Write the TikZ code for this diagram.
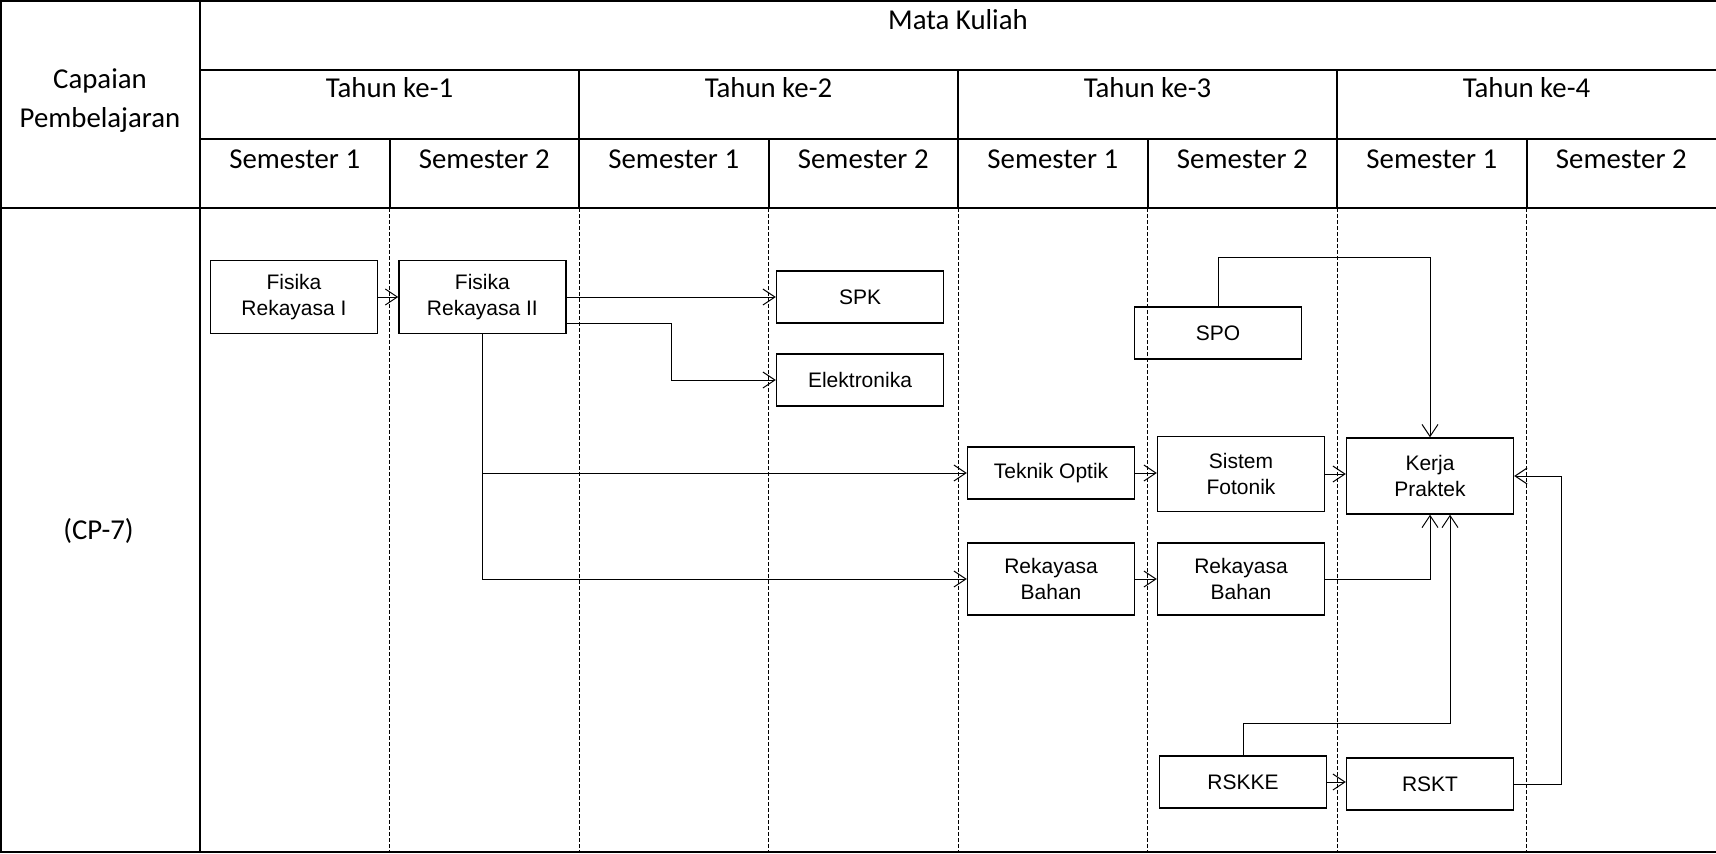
\documentclass[tikz,border=0pt]{standalone}
\usepackage{fontspec}
\setmainfont{Liberation Sans}
\newfontfamily\hdrfont{Carlito}
\usetikzlibrary{arrows.meta,positioning}

\begin{document}
\begin{tikzpicture}[x=0.5pt,y=-0.5pt,>={Straight Barb[length=6pt,width=8pt]},
  hdr/.style={font=\hdrfont\fontsize{14.4}{19.5}\selectfont,align=center,inner sep=0pt},
  mk/.style={rectangle,draw=black,line width=0.7pt,minimum width=83.5pt,minimum height=26pt,inner sep=2pt,align=center,font=\fontsize{10.5}{12.6}\selectfont},
  mk2/.style={mk,minimum height=36.5pt},
  tabline/.style={line width=1pt},
  sep/.style={line width=0.4pt,dash pattern=on 2pt off 1pt},
  arr/.style={->,line width=0.5pt}]
\useasboundingbox (0,0) rectangle (1716,853);

% table
\draw[tabline] (1,853) -- (1,1) -- (1716,1);
\draw[tabline] (0,852) -- (1716,852);
\draw[tabline] (200,0) -- (200,853);
\draw[tabline] (200,70) -- (1716,70);
\draw[tabline] (200,139) -- (1716,139);
\draw[tabline] (0,208) -- (1716,208);
\foreach \x in {579,958,1337} \draw[tabline] (\x,70) -- (\x,208);
\foreach \x in {389.5,768.5,1147.5,1526.5} \draw[tabline] (\x,139) -- (\x,208);
\foreach \x in {389.5,579,768.5,958,1147.5,1337,1526.5} \draw[sep] (\x,208) -- (\x,852);

% header
\node[hdr] (cp) at (100,101) {Capaian\\Pembelajaran};
\node[hdr] (mata) at (958,20) {Mata Kuliah};
\foreach \n in {1,...,4}
  \node[hdr] (th\n) at ({200+379*(\n-1)+189.5},88) {Tahun ke-\n};
\foreach \n in {1,...,8}{
  \pgfmathtruncatemacro\sm{mod(\n-1,2)+1}
  \node[hdr] (sm\n) at ({200+189.5*(\n-0.5)},159) {Semester \sm};
}
\node[hdr] (cp7) at (98.5,531) {(CP-7)};

% mata kuliah
\node[mk2] (fr1) at (294,297) {Fisika\\Rekayasa I};
\node[mk2,right=10pt of fr1] (fr2) {Fisika\\Rekayasa II};
\node[mk] (spk) at (860,297) {SPK};
\node[mk] (elek) at (860,380) {Elektronika};
\node[mk] (spo) at (1218,333) {SPO};
\node[mk] (topt) at (1051,473) {Teknik Optik};
\node[mk,minimum height=37.5pt] (sfot) at (1241,474) {Sistem\\Fotonik};
\node[mk,minimum height=38pt] (kp) at (1430,476) {Kerja\\Praktek};
\node[mk,minimum height=36pt] (rb1) at (1051,579) {Rekayasa\\Bahan};
\node[mk,minimum height=36pt] (rb2) at (1241,579) {Rekayasa\\Bahan};
\node[mk] (rskke) at (1243,782) {RSKKE};
\node[mk] (rskt) at (1430,784) {RSKT};

% prasyarat
\draw[arr] (fr1) -- (fr2);
\draw[arr] (fr2.east) -- (spk.west);
\draw[arr] ([yshift=-13pt]fr2.east) -- ++(105,0) |- (elek.west);
\draw[arr] (fr2.south) |- (topt.west);
\draw[arr] (fr2.south) |- (rb1.west);
\draw[arr] (topt.east) -- (topt.east -| sfot.west);
\draw[arr] (sfot.east) -- (sfot.east -| kp.west);
\draw[arr] (rb1) -- (rb2);
\draw[arr] (rb2.east) -| (kp.south);
\draw[arr] (spo.north) -- ++(0,-48.5) -| (kp.north);
\draw[arr] (rskke.north) -- ++(0,-31.5) -| ([xshift=10pt]kp.south);
\draw[arr] (rskke.east) -- (rskke.east -| rskt.west);
\draw[arr] (rskt.east) -- ++(47,0) |- (kp.east);
\end{tikzpicture}
\end{document}
